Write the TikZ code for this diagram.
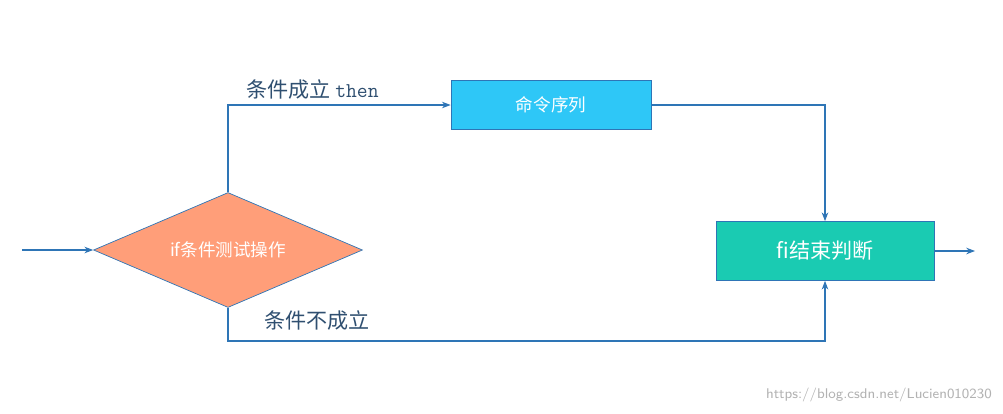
\documentclass[tikz,border=0pt]{standalone}
\usepackage{fontspec}
\usepackage{xcolor}
\usetikzlibrary{shapes.geometric,arrows.meta}
\newfontfamily\cjk{Noto Sans CJK SC}
\definecolor{edgeblue}{HTML}{2E75B6}
\definecolor{diafill}{HTML}{FF9E79}
\definecolor{cmdfill}{HTML}{2EC7F7}
\definecolor{fifill}{HTML}{1ACBB2}
\definecolor{labelblue}{HTML}{2F4F70}
\tikzset{
  flow/.style={draw=edgeblue, line width=0.6pt, -{Stealth[length=5pt]}},
  whitebox/.style={draw=edgeblue, text=white, inner sep=0pt}
}
\begin{document}
\begin{tikzpicture}[x=0.02cm, y=-0.02cm]
\useasboundingbox (0,0) rectangle (1003,413);
\node[diamond, whitebox, fill=diafill, aspect=2.34, minimum width=5.38cm, minimum height=2.3cm, font=\cjk\fontsize{10}{12}\selectfont] (test) at (228,250) {if条件测试操作};
\node[rectangle, whitebox, fill=cmdfill, minimum width=4cm, minimum height=0.98cm, font=\cjk\fontsize{10}{12}\selectfont] (cmd) at (551,105) {命令序列};
\node[rectangle, whitebox, fill=fifill, minimum width=4.36cm, minimum height=1.18cm, font=\cjk\fontsize{12}{14}\selectfont] (fi) at (825,251) {fi结束判断};

\coordinate (in) at (22,250);
\coordinate (out) at (975,251);
\coordinate (topcorner) at (228,105);
\coordinate (rightcorner) at (825,105);
\coordinate (lowleft) at (228,341);
\coordinate (lowright) at (825,341);

\draw[flow] (in) -- (test.west);
\draw[flow] (test.north) -- (topcorner) -- (cmd.west);
\draw[flow] (cmd.east) -- (rightcorner) -- (fi.north);
\draw[flow] (test.south) -- (lowleft) -- (lowright) -- (fi.south);
\draw[flow] (fi.east) -- (out);

\node[text=labelblue, anchor=west, font=\cjk\fontsize{12}{14}\selectfont] (yes) at (240,89) {条件成立 \texttt{then}};
\node[text=labelblue, anchor=west, font=\cjk\fontsize{12}{14}\selectfont] (no) at (258,320) {条件不成立};
\node[text=gray!60, anchor=east, font=\sffamily\fontsize{8}{10}\selectfont] (mark) at (998,395) {https://blog.csdn.net/Lucien010230};
\end{tikzpicture}
\end{document}
